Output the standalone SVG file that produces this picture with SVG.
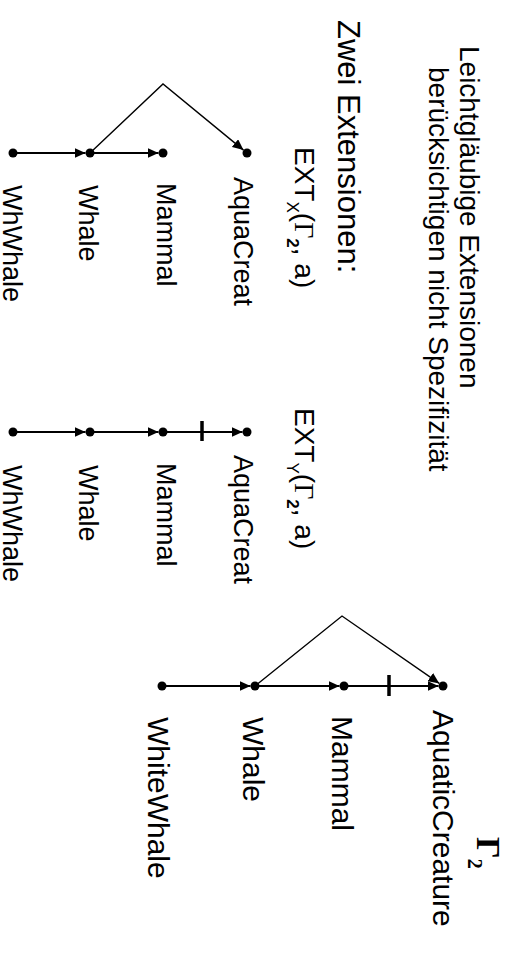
<svg xmlns="http://www.w3.org/2000/svg" width="507" height="955" viewBox="0 0 507 955">
<defs>
<marker id="ah" markerUnits="userSpaceOnUse" markerWidth="12" markerHeight="10" refX="11" refY="5" orient="auto"><path d="M0,0 L11,5 L0,10 z" fill="#000"/></marker>
</defs>
<style>
text{font-family:"Liberation Sans",Arial,sans-serif;fill:#000}
.lbl{font-size:27px}
.lbl3{font-size:30px}
.edge{stroke:#000;stroke-width:2.2;fill:none}
.diag{stroke:#000;stroke-width:1.4;fill:none}
.tick{stroke:#000;stroke-width:3.5}
.dot{fill:#000}
.g{font-family:"Liberation Serif",serif}
</style>
<rect width="507" height="955" fill="#fff"/>
<g id="titles">
<text transform="translate(460,46) rotate(90)" font-size="28">Leichtgläubige Extensionen</text>
<text transform="translate(429,67) rotate(90)" font-size="28">berücksichtigen nicht Spezifizität</text>
<text transform="translate(338,20) rotate(90)" font-size="31">Zwei Extensionen:</text>
<text transform="translate(295,147) rotate(90)" font-size="28">EXT<tspan font-size="17" dy="8">X</tspan><tspan dy="-8">(</tspan><tspan class="g">Γ</tspan><tspan font-size="17" dy="8" font-weight="bold">2</tspan><tspan dy="-8">, a)</tspan></text>
<text transform="translate(295,408) rotate(90)" font-size="28">EXT<tspan font-size="17" dy="8">Y</tspan><tspan dy="-8">(</tspan><tspan class="g">Γ</tspan><tspan font-size="17" dy="8" font-weight="bold">2</tspan><tspan dy="-8">, a)</tspan></text>
<text transform="translate(477,837) rotate(90)" font-size="34" font-weight="bold" class="g">Γ<tspan font-size="20" dy="9">2</tspan></text>
</g>
<g id="connectors">
<line class="edge" x1="13" y1="153" x2="85.5" y2="153" marker-end="url(#ah)"/>
<line class="edge" x1="90" y1="153" x2="158.5" y2="153" marker-end="url(#ah)"/>
<polyline class="diag" points="90,153 163,84 243.5,150.1" marker-end="url(#ah)"/>
<line class="edge" x1="13" y1="432" x2="85.5" y2="432" marker-end="url(#ah)"/>
<line class="edge" x1="90" y1="432" x2="158.5" y2="432" marker-end="url(#ah)"/>
<line class="edge" x1="163" y1="432" x2="242.5" y2="432" marker-end="url(#ah)"/>
<line class="tick" x1="202" y1="421" x2="202" y2="441"/>
<line class="edge" x1="162" y1="686" x2="250.5" y2="686" marker-end="url(#ah)"/>
<line class="edge" x1="255" y1="686" x2="339.5" y2="686" marker-end="url(#ah)"/>
<line class="edge" x1="344" y1="686" x2="438.5" y2="686" marker-end="url(#ah)"/>
<line class="tick" x1="389" y1="675" x2="389" y2="696"/>
<polyline class="diag" points="255,686 342,616 439.3,683.4" marker-end="url(#ah)"/>
</g>
<g id="x-aquacreat"><circle class="dot" cx="247" cy="153" r="4.5"/><text class="lbl" transform="translate(234,177) rotate(90)">AquaCreat</text></g>
<g id="x-mammal"><circle class="dot" cx="163" cy="153" r="4.5"/><text class="lbl" transform="translate(157,183) rotate(90)">Mammal</text></g>
<g id="x-whale"><circle class="dot" cx="90" cy="153" r="4.5"/><text class="lbl" transform="translate(79,185) rotate(90)">Whale</text></g>
<g id="x-whwhale"><circle class="dot" cx="13" cy="153" r="4.5"/><text class="lbl" transform="translate(2.5,185) rotate(90)">WhWhale</text></g>
<g id="y-aquacreat"><circle class="dot" cx="247" cy="432" r="4.5"/><text class="lbl" transform="translate(234,455) rotate(90)">AquaCreat</text></g>
<g id="y-mammal"><circle class="dot" cx="163" cy="432" r="4.5"/><text class="lbl" transform="translate(157,463) rotate(90)">Mammal</text></g>
<g id="y-whale"><circle class="dot" cx="90" cy="432" r="4.5"/><text class="lbl" transform="translate(79,465) rotate(90)">Whale</text></g>
<g id="y-whwhale"><circle class="dot" cx="13" cy="432" r="4.5"/><text class="lbl" transform="translate(2.5,465) rotate(90)">WhWhale</text></g>
<g id="g-aquaticcreature"><circle class="dot" cx="443" cy="686" r="4.5"/><text class="lbl3" transform="translate(433,710) rotate(90)">AquaticCreature</text></g>
<g id="g-mammal"><circle class="dot" cx="344" cy="686" r="4.5"/><text class="lbl3" transform="translate(332,716) rotate(90)">Mammal</text></g>
<g id="g-whale"><circle class="dot" cx="255" cy="686" r="4.5"/><text class="lbl3" transform="translate(243,717) rotate(90)">Whale</text></g>
<g id="g-whitewhale"><circle class="dot" cx="162" cy="686" r="4.5"/><text class="lbl3" transform="translate(148,717) rotate(90)">WhiteWhale</text></g>
</svg>
